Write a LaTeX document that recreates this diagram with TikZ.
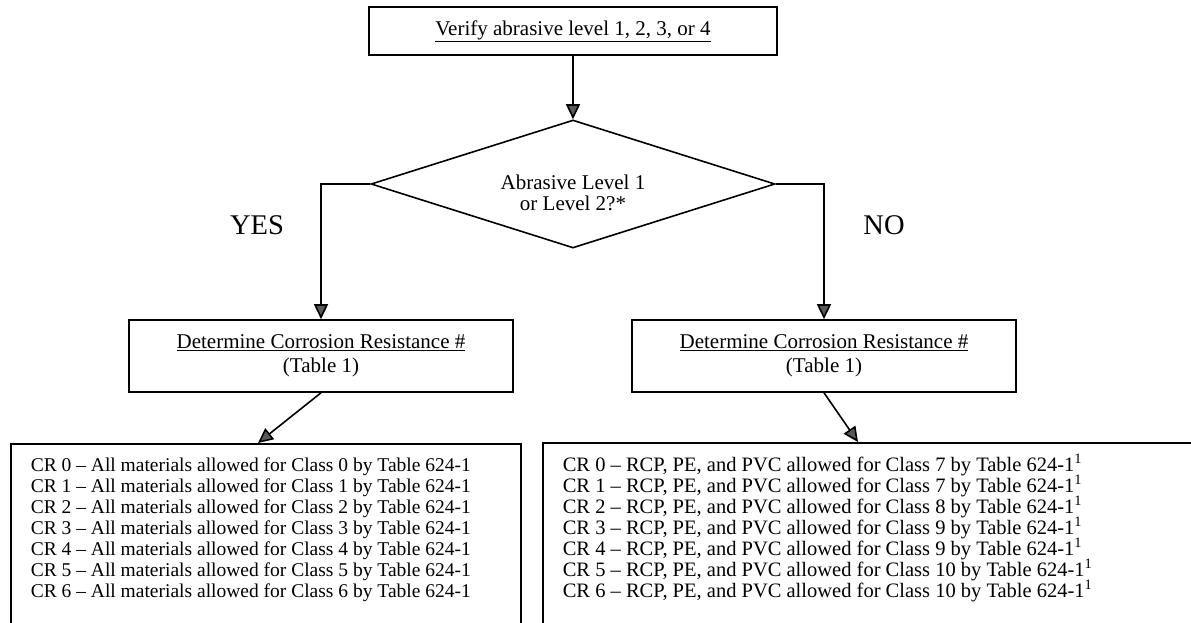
\documentclass[tikz,border=0pt]{standalone}
\usepackage{fontspec}
\setmainfont{Liberation Serif}
\usetikzlibrary{positioning, shapes.geometric, arrows.meta}

\begin{document}
\begin{tikzpicture}[
        x=1pt, y=-1pt,
        line width=1.6pt,
        stepbox/.style={
          draw, align=center, minimum width=384pt, minimum height=72pt, inner sep=0pt,
          font=\fontsize{21}{24}\selectfont
        },
        decision/.style={
          draw, diamond, minimum width=404pt, minimum height=128pt, inner sep=0pt
        },
        ghost/.style={
          align=center, inner sep=0pt, font=\fontsize{21}{21}\selectfont
        },
        answer/.style={
          inner sep=0pt, font=\fontsize{28.5}{30}\selectfont
        },
        crlist/.style={
          draw, anchor=north west, inner xsep=20pt, inner ysep=14pt,
          font=\fontsize{20.5}{21}\selectfont
        },
        >={Triangle[width=14pt, length=15pt, fill=black!65]},
      ]
        \useasboundingbox (0,0) rectangle (1191,623);

        % Start
        \node [stepbox, minimum width=408pt, minimum height=48pt] (verify) at (573,31)
          {\underline{Verify abrasive level 1, 2, 3, or 4}};

        % Decision
        \node [decision] (abrasive) at (573,184) {};
        \node [ghost] (abrasivetxt) at (573,193) {Abrasive Level 1\\or Level 2?*};
        \node [answer] (yes) at (257,225) {YES};
        \node [answer] (no) at (884,225) {NO};

        % Corrosion resistance
        \node [stepbox] (detL) at (321,356)
          {\underline{Determine Corrosion Resistance \#}\\(Table 1)};
        \node [stepbox] (detR) at (824,356)
          {\underline{Determine Corrosion Resistance \#}\\(Table 1)};

        % Allowed materials
        \node [crlist, font=\fontsize{19.5}{21}\selectfont] (listL) at (10,443) {\parbox[t][190pt][t]{470pt}{%
          CR 0 \textendash{} All materials allowed for Class 0 by Table 624-1\\
          CR 1 \textendash{} All materials allowed for Class 1 by Table 624-1\\
          CR 2 \textendash{} All materials allowed for Class 2 by Table 624-1\\
          CR 3 \textendash{} All materials allowed for Class 3 by Table 624-1\\
          CR 4 \textendash{} All materials allowed for Class 4 by Table 624-1\\
          CR 5 \textendash{} All materials allowed for Class 5 by Table 624-1\\
          CR 6 \textendash{} All materials allowed for Class 6 by Table 624-1}};
        \node [crlist] (listR) at (542,442) {\parbox[t][190pt][t]{680pt}{%
          CR 0 \textendash{} RCP, PE, and PVC allowed for Class 7 by Table 624-1\smash{\textsuperscript{1}}\\
          CR 1 \textendash{} RCP, PE, and PVC allowed for Class 7 by Table 624-1\smash{\textsuperscript{1}}\\
          CR 2 \textendash{} RCP, PE, and PVC allowed for Class 8 by Table 624-1\smash{\textsuperscript{1}}\\
          CR 3 \textendash{} RCP, PE, and PVC allowed for Class 9 by Table 624-1\smash{\textsuperscript{1}}\\
          CR 4 \textendash{} RCP, PE, and PVC allowed for Class 9 by Table 624-1\smash{\textsuperscript{1}}\\
          CR 5 \textendash{} RCP, PE, and PVC allowed for Class 10 by Table 624-1\smash{\textsuperscript{1}}\\
          CR 6 \textendash{} RCP, PE, and PVC allowed for Class 10 by Table 624-1\smash{\textsuperscript{1}}}};

        % Flow
        \draw [->] (verify) -- (abrasive);
        \draw [->] (abrasive.west) -| (detL.north);
        \draw [->] (abrasive.east) -| (detR.north);
        \draw [->] (detL.south) -- ([xshift=248pt]listL.north west);
        \draw [->] (detR.south) -- ([xshift=316pt]listR.north west);

      \end{tikzpicture}
\end{document}
